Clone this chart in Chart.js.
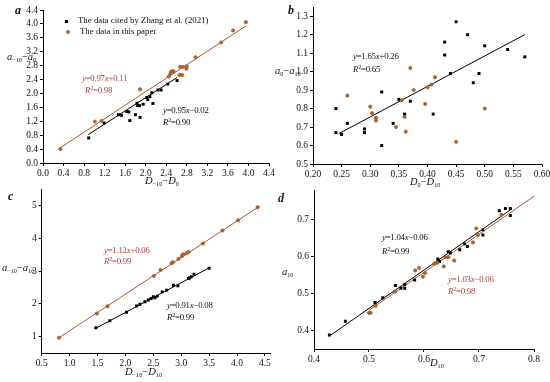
<!DOCTYPE html>
<html>
<head>
<meta charset="utf-8">
<script src="https://cdn.jsdelivr.net/npm/chart.js@4"></script>
<style>
  body { margin: 0; background: #fff; }
  #wrap { position: relative; width: 550px; height: 382px; overflow: hidden; }
  canvas { position: absolute; }
  .t { position: absolute; font-family: "Liberation Serif", "Times New Roman", serif; font-size: 8.8px;
       line-height: 1; white-space: nowrap; color: #111; }
  .t sub, .t sup { font-size: 6.2px; line-height: 0; }
  .t sub { vertical-align: -2px; }
  .t sup { vertical-align: 3px; }
  .eq { letter-spacing: -0.25px; }
  .red { color: #b0413e; }
  .ax { font-size: 10.5px; }
  .ax i { font-style: italic; }
  .lt { font-weight: bold; font-style: italic; font-size: 12px; }
  .mk { position: absolute; width: 3px; height: 3px; background: #000; }
  .mk.br { background: #b5652b; border-radius: 50%; width: 4px; height: 4px; }
</style>
</head>
<body>
<div id="wrap">
  <canvas id="cA"></canvas>
  <canvas id="cB"></canvas>
  <canvas id="cC"></canvas>
  <canvas id="cD"></canvas>

  <div class="t lt" style="left:15px;top:4px">a</div>
  <div class="t lt" style="left:288px;top:4px">b</div>
  <div class="t lt" style="left:8px;top:190px">c</div>
  <div class="t lt" style="left:278px;top:192px">d</div>

  <div class="mk" style="left:65px;top:20px"></div>
  <div class="t" style="left:78px;top:16px">The data cited by Zhang et al. (2021)</div>
  <div class="mk br" style="left:66px;top:30px"></div>
  <div class="t" style="left:80px;top:27px">The data in this paper</div>

  <div class="t ax" style="left:7px;top:52px"><i>a</i><sub>−10</sub>−<i>a</i><sub>0</sub></div>
  <div class="t ax" style="left:145px;top:176px"><i>D</i><sub>−10</sub>−<i>D</i><sub>0</sub></div>
  <div class="t ax" style="left:275px;top:66px"><i>a</i><sub>0</sub>−<i>a</i><sub>10</sub></div>
  <div class="t ax" style="left:410px;top:177px"><i>D</i><sub>0</sub>−<i>D</i><sub>10</sub></div>
  <div class="t ax" style="left:2px;top:263px"><i>a</i><sub>−10</sub>−<i>a</i><sub>10</sub></div>
  <div class="t ax" style="left:125px;top:367px"><i>D</i><sub>−10</sub>−<i>D</i><sub>10</sub></div>
  <div class="t ax" style="left:282px;top:267px"><i>a</i><sub>10</sub></div>
  <div class="t ax" style="left:430px;top:358px"><i>D</i><sub>10</sub></div>

  <div class="t eq red" style="left:82px;top:74px"><i>y</i>=0.97<i>x</i>+0.11</div>
  <div class="t eq red" style="left:85px;top:86px"><i>R</i><sup>2</sup>=0.98</div>
  <div class="t eq" style="left:163px;top:106px"><i>y</i>=0.95<i>x</i>−0.02</div>
  <div class="t eq" style="left:163px;top:118px"><i>R</i><sup>2</sup>=0.90</div>

  <div class="t eq" style="left:353px;top:52px"><i>y</i>=1.65<i>x</i>+0.26</div>
  <div class="t eq" style="left:353px;top:65px"><i>R</i><sup>2</sup>=0.65</div>

  <div class="t eq red" style="left:104px;top:246px"><i>y</i>=1.12<i>x</i>+0.06</div>
  <div class="t eq red" style="left:104px;top:257px"><i>R</i><sup>2</sup>=0.99</div>
  <div class="t eq" style="left:167px;top:301px"><i>y</i>=0.91<i>x</i>−0.08</div>
  <div class="t eq" style="left:167px;top:313px"><i>R</i><sup>2</sup>=0.99</div>

  <div class="t eq" style="left:382px;top:233px"><i>y</i>=1.04<i>x</i>−0.06</div>
  <div class="t eq" style="left:382px;top:247px"><i>R</i><sup>2</sup>=0.99</div>
  <div class="t eq red" style="left:448px;top:275px"><i>y</i>=1.03<i>x</i>−0.06</div>
  <div class="t eq red" style="left:448px;top:287px"><i>R</i><sup>2</sup>=0.98</div>
</div>
<script>
// panel a : a(-10) - a(0) vs D(-10) - D(0)
const aZhangX = [0.89,1.19,1.47,1.53,1.63,1.67,1.69,1.80,1.83,1.84,1.88,1.89,1.95,2.02,2.04,2.08,2.12,2.14,2.24,2.30,2.43,2.61];
const aZhangY = [0.72,1.15,1.39,1.37,1.48,1.47,1.22,1.39,1.72,1.65,1.65,1.31,1.69,1.88,1.82,1.91,2.02,1.71,2.10,2.10,2.27,2.37];
const aPaperX = [0.34,1.01,1.14,1.89,2.45,2.48,2.50,2.54,2.66,2.71,2.67,2.72,2.79,2.80,2.97,3.47,3.70,3.95];
const aPaperY = [0.40,1.19,1.21,2.12,2.49,2.57,2.63,2.64,2.53,2.53,2.77,2.76,2.71,2.78,3.04,3.47,3.81,4.05];
// fit: slope, intercept, x from, x to
const aZhangFit = [0.95, -0.02, 0.88, 2.61];
const aPaperFit = [0.97, 0.11, 0.30, 3.95];
const aTicks = [0.0,0.4,0.8,1.2,1.6,2.0,2.4,2.8,3.2,3.6,4.0,4.4];

// panel b : a(0) - a(10) vs D(0) - D(10)
const bZhangX = [0.24,0.24,0.25,0.26,0.29,0.29,0.32,0.32,0.34,0.35,0.37,0.36,0.41,0.43,0.43,0.44,0.45,0.47,0.48,0.49,0.50,0.54,0.57];
const bZhangY = [0.80,0.67,0.66,0.72,0.69,0.67,0.89,0.60,0.72,0.85,0.84,0.77,0.77,1.16,1.09,0.99,1.27,1.20,0.94,0.99,1.14,1.12,1.08];
const bPaperX = [0.26,0.30,0.303,0.31,0.31,0.345,0.355,0.36,0.362,0.37,0.376,0.396,0.40,0.407,0.413,0.45,0.50];
const bPaperY = [0.87,0.81,0.775,0.75,0.735,0.70,0.845,0.755,0.675,1.02,0.90,0.825,0.915,0.93,0.97,0.62,0.80];
const bFit = [1.65, 0.26, 0.245, 0.57];
const bXTicks = [0.20,0.25,0.30,0.35,0.40,0.45,0.50,0.55,0.60];
const bYTicks = [0.5,0.6,0.7,0.8,0.9,1.0,1.1,1.2,1.3];

// panel c : a(-10) - a(10) vs D(-10) - D(10)
const cZhangX = [1.47,1.72,2.02,2.20,2.26,2.35,2.41,2.46,2.50,2.53,2.57,2.66,2.74,2.86,2.94,3.13,3.15,3.18,3.23,3.50];
const cZhangY = [1.27,1.49,1.75,1.94,1.99,2.07,2.12,2.17,2.22,2.19,2.24,2.37,2.42,2.57,2.56,2.78,2.80,2.83,2.91,3.09];
const cPaperX = [0.81,1.49,1.68,2.51,2.63,2.83,2.85,2.95,3.01,3.03,3.09,3.13,3.39,3.74,4.02,4.37];
const cPaperY = [0.97,1.71,1.93,2.86,3.04,3.25,3.28,3.38,3.46,3.52,3.55,3.59,3.85,4.25,4.56,4.96];
const cZhangFit = [0.91, -0.08, 1.47, 3.52];
const cPaperFit = [1.12, 0.06, 0.80, 4.40];
const cXTicks = [0.5,1.0,1.5,2.0,2.5,3.0,3.5,4.0,4.5];
const cYTicks = [1,2,3,4,5];

// panel d : a(10) vs D(10)
const dZhangX = [0.428,0.457,0.511,0.525,0.548,0.558,0.565,0.565,0.583,0.625,0.628,0.644,0.648,0.665,0.674,0.679,0.707,0.707,0.737,0.748,0.757,0.757];
const dZhangY = [0.388,0.425,0.476,0.489,0.522,0.515,0.515,0.525,0.537,0.594,0.587,0.614,0.610,0.619,0.635,0.628,0.673,0.659,0.725,0.731,0.731,0.712];
const dPaperX = [0.500,0.503,0.512,0.547,0.584,0.591,0.598,0.602,0.619,0.624,0.636,0.639,0.644,0.655,0.689,0.695,0.698,0.741];
const dPaperY = [0.448,0.448,0.467,0.506,0.563,0.570,0.546,0.556,0.582,0.584,0.574,0.599,0.599,0.590,0.639,0.677,0.659,0.714];
const dZhangFit = [1.04, -0.06, 0.43, 0.76];
const dPaperFit = [1.03, -0.06, 0.50, 0.80];
const dXTicks = [0.4,0.5,0.6,0.7,0.8];
const dYTicks = [0.4,0.5,0.6,0.7];

const FONT = '"Liberation Serif", "Times New Roman", serif';
const BROWN = '#b5652b';
const BROWN_LINE = '#b0552e';

const pts = (xs, ys) => xs.map((x, i) => ({x: x, y: ys[i]}));
const fitLine = f => [{x: f[2], y: f[0] * f[2] + f[1]}, {x: f[3], y: f[0] * f[3] + f[1]}];

function blackPts(xs, ys) {
    return { type: 'scatter', data: pts(xs, ys), pointStyle: 'rect', pointRadius: 2.1,
             backgroundColor: '#000', borderColor: '#000', borderWidth: 0, order: 1 };
}
function brownPts(xs, ys) {
    return { type: 'scatter', data: pts(xs, ys), pointStyle: 'circle', pointRadius: 1.7,
             backgroundColor: BROWN, borderColor: '#8a4a1c', borderWidth: 0.5, order: 0 };
}
function line(f, color) {
    return { type: 'line', data: fitLine(f), borderColor: color, borderWidth: 1,
             pointRadius: 0, fill: false, order: 2 };
}

function axis(min, max, ticks, digits, size, isX) {
    return {
        type: 'linear', min: min, max: max,
        grid: { drawOnChartArea: false, drawTicks: true, tickLength: 3, color: '#000' },
        border: { color: '#000', width: 1 },
        ticks: { color: '#111', padding: 2, maxRotation: 0, autoSkip: false,
                 font: { family: FONT, size: 9.5 },
                 callback: v => v.toFixed(digits) },
        afterBuildTicks: s => { s.ticks = ticks.map(v => ({value: v})); },
        afterFit: s => {
            if (isX) { s.height = size; s.paddingLeft = 0; s.paddingRight = 0; }
            else { s.width = size; s.paddingTop = 0; s.paddingBottom = 0; }
        }
    };
}

function panel(id, box, datasets, x, y, pad) {
    const cv = document.getElementById(id);
    cv.style.left = box[0] + 'px';
    cv.style.top = box[1] + 'px';
    cv.width = box[2];
    cv.height = box[3];
    return new Chart(cv, {
        type: 'scatter',
        data: { datasets: datasets },
        options: {
            responsive: false, animation: false, devicePixelRatio: 1,
            layout: { padding: { left: 0, top: pad[0], right: pad[1], bottom: 0 } },
            plugins: { legend: { display: false }, tooltip: { enabled: false } },
            scales: { x: x, y: y }
        }
    });
}

panel('cA', [0, 0, 275, 191],
    [blackPts(aZhangX, aZhangY), brownPts(aPaperX, aPaperY),
     line(aZhangFit, '#000'), line(aPaperFit, BROWN_LINE)],
    axis(0, 4.4, aTicks, 1, 28, true),
    axis(0, 4.4, aTicks, 1, 43, false), [10, 6]);

panel('cB', [275, 0, 275, 191],
    [blackPts(bZhangX, bZhangY), brownPts(bPaperX, bPaperY), line(bFit, '#000')],
    axis(0.2, 0.6, bXTicks, 2, 27, true),
    axis(0.5, 1.35, bYTicks, 1, 38, false), [7, 8]);

panel('cC', [0, 180, 275, 202],
    [blackPts(cZhangX, cZhangY), brownPts(cPaperX, cPaperY),
     line(cZhangFit, '#000'), line(cPaperFit, BROWN_LINE)],
    axis(0.5, 4.6, cXTicks, 1, 29, true),
    axis(0.5, 5.5, cYTicks, 0, 41.7, false), [9.6, 4]);

panel('cD', [275, 180, 275, 202],
    [blackPts(dZhangX, dZhangY), brownPts(dPaperX, dPaperY),
     line(dZhangFit, '#000'), line(dPaperFit, BROWN_LINE)],
    axis(0.4, 0.8, dXTicks, 1, 33, true),
    axis(0.35, 0.78, dYTicks, 1, 39, false), [10.4, 16]);
</script>
</body>
</html>
